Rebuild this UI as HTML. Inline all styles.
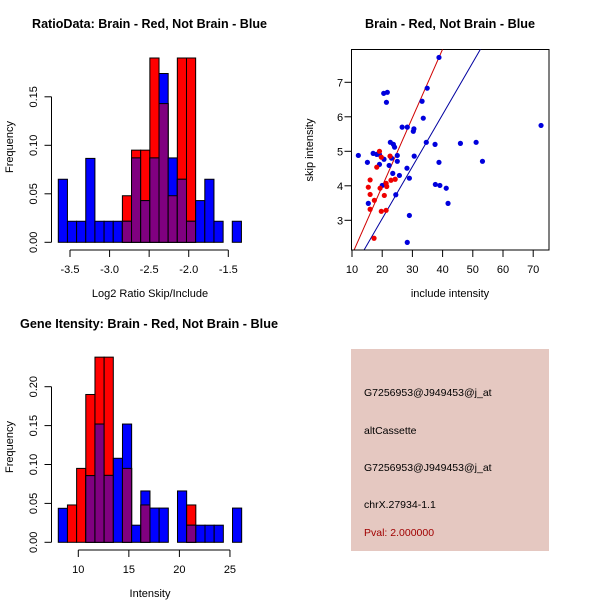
<!DOCTYPE html>
<html><head><meta charset="utf-8"><style>
html,body{margin:0;padding:0;background:#fff;}
svg{display:block;font-family:"Liberation Sans",sans-serif;}
</style></head><body>
<svg id="chart" width="600" height="600" viewBox="0 0 600 600" xmlns="http://www.w3.org/2000/svg">
<rect x="0" y="0" width="600" height="600" fill="#fff"/>
<text x="32" y="28" font-size="12.5" font-weight="bold" textLength="235" lengthAdjust="spacingAndGlyphs">RatioData: Brain - Red, Not Brain - Blue</text>
<text x="365" y="28" font-size="12.5" font-weight="bold" textLength="170" lengthAdjust="spacingAndGlyphs">Brain - Red, Not Brain - Blue</text>
<text x="20" y="328" font-size="12.5" font-weight="bold" textLength="258" lengthAdjust="spacingAndGlyphs">Gene Itensity: Brain - Red, Not Brain - Blue</text>
<g id="h1"></g>
<g id="h2"></g>
<g id="sc"></g>
<g>
<rect x="351" y="349" width="198" height="202" fill="#e5c8c1"/>
<text x="364" y="396" font-size="10.5">G7256953@J949453@j_at</text>
<text x="364" y="434" font-size="10.5">altCassette</text>
<text x="364" y="471" font-size="10.5">G7256953@J949453@j_at</text>
<text x="364" y="508" font-size="10.5">chrX.27934-1.1</text>
<text x="364" y="536" font-size="10.5" fill="#a00000">Pval: 2.000000</text>
</g>
</svg>
<script>
// Ratio histogram data
const ratioBinStart = -3.648;
const ratioBinWidth = 0.1157;
const ratioBlue = [0.065,0.0217,0.0217,0.0865,0.0217,0.0217,0.0217,0.0217,0.087,0.043,0.087,0.174,0.087,0.065,0.0217,0.043,0.065,0.0217,0,0.0217];
const ratioRed = [0,0,0,0,0,0,0,0.048,0.095,0.095,0.19,0.143,0.048,0.19,0.19,0,0,0,0,0];
const ratioXTicks = [-3.5,-3.0,-2.5,-2.0,-1.5];
const ratioXTickLabels = ["-3.5","-3.0","-2.5","-2.0","-1.5"];
const ratioYTicks = [0,0.05,0.10,0.15];
const ratioYTickLabels = ["0.00","0.05","0.10","0.15"];
// Intensity histogram data
const intBinStart = 8.02;
const intBinWidth = 0.907;
const intBlue = [0.0437,0,0,0.0857,0.152,0.086,0.108,0.152,0.022,0.066,0.044,0.044,0,0.066,0.022,0.022,0.022,0.022,0,0.044];
const intRed = [0,0.048,0.095,0.19,0.238,0.238,0,0.095,0,0.048,0,0,0,0,0.048,0,0,0,0,0];
const intXTicks = [10,15,20,25];
const intXTickLabels = ["10","15","20","25"];
const intYTicks = [0,0.05,0.10,0.15,0.20];
const intYTickLabels = ["0.00","0.05","0.10","0.15","0.20"];
// Scatter data
const blueX = [38.8,34.9,20.5,21.7,21.4,33.2,33.6,26.6,28.3,30.5,30.3,22.7,23.7,24.1,34.6,37.5,45.9,51.1,12.1,17.0,18.2,19.1,25.0,23.1,20.6,30.6,15.1,19.1,25.0,22.3,38.8,53.2,28.2,72.6,23.5,25.7,29.0,20.0,37.6,39.1,41.2,24.5,15.4,41.8,29.0,28.3];
const blueY = [7.72,6.83,6.68,6.71,6.42,6.45,5.96,5.70,5.70,5.65,5.58,5.26,5.20,5.12,5.26,5.20,5.23,5.26,4.88,4.94,4.91,4.91,4.88,4.80,4.77,4.86,4.68,4.62,4.71,4.59,4.68,4.71,4.51,5.75,4.36,4.30,4.22,4.01,4.04,4.01,3.93,3.74,3.49,3.49,3.14,2.36];
const redX = [19.1,19.7,22.6,18.2,16.0,15.4,16.0,17.4,16.0,19.7,21.3,20.7,19.3,21.5,21.3,22.9,24.3,17.3];
const redY = [5.0,4.83,4.86,4.54,4.17,3.96,3.75,3.58,3.32,3.26,3.29,3.72,3.93,3.98,4.07,4.16,4.19,2.48];
const redSlope = 0.1986, redIntercept = 0.015;
const blueSlope = 0.151, blueIntercept = 0.026;
const scXTicks = [10,20,30,40,50,60,70];
const scYTicks = [3,4,5,6,7];

const NS = "http://www.w3.org/2000/svg";
function mk(parent, tag, attrs, text) {
  const e = document.createElementNS(NS, tag);
  for (const k in attrs) e.setAttribute(k, attrs[k]);
  if (text !== undefined) e.textContent = text;
  parent.appendChild(e);
  return e;
}

function hist(g, cfg) {
  const xs = v => cfg.x0px + (v - cfg.x0) * cfg.xk;
  const ys = v => cfg.y0px - v * cfg.yk;
  for (let i = 0; i < cfg.blue.length; i++) {
    const l = xs(cfg.start + i * cfg.w), r = xs(cfg.start + (i + 1) * cfg.w);
    const b = cfg.blue[i], rd = cfg.red[i];
    const mn = Math.min(b, rd);
    if (rd > 0) {
      const e = mk(g, "rect", {x: l, y: ys(rd), width: r - l, height: ys(0) - ys(rd), fill: "#ff0000", stroke: "#000", "stroke-width": 1});
      
      
    }
    if (b > 0) {
      const e = mk(g, "rect", {x: l, y: ys(b), width: r - l, height: ys(0) - ys(b), fill: rd > b ? "none" : "#0000ff", stroke: "#000", "stroke-width": 1});
      
      
    }
    if (mn > 0) {
      const e = mk(g, "rect", {x: l, y: ys(mn), width: r - l, height: ys(0) - ys(mn), fill: "#800080", stroke: "#000", "stroke-width": 1});
      
      
    }
  }
  // y axis
  const ya = mk(g, "g", {});
  
  
  mk(ya, "line", {x1: 51.5, x2: 51.5, y1: ys(cfg.yt[0]), y2: ys(cfg.yt[cfg.yt.length - 1]), stroke: "#000"});
  cfg.yt.forEach((t, i) => {
    mk(ya, "line", {x1: 44.5, x2: 51.5, y1: ys(t), y2: ys(t), stroke: "#000"});
    const tx = mk(ya, "text", {x: 37, y: ys(t), "font-size": 11, "text-anchor": "middle", transform: `rotate(-90 37 ${ys(t)})`}, cfg.ytl[i]);
    
    
  });
  const yl = mk(ya, "text", {x: 13, y: cfg.ylabY, "font-size": 11, "text-anchor": "middle", transform: `rotate(-90 13 ${cfg.ylabY})`}, "Frequency");
  
  
  // x axis
  const xa = mk(g, "g", {});
  
  
  const ay = cfg.axisY;
  mk(xa, "line", {x1: xs(cfg.xt[0]), x2: xs(cfg.xt[cfg.xt.length - 1]), y1: ay, y2: ay, stroke: "#000"});
  cfg.xt.forEach((t, i) => {
    mk(xa, "line", {x1: xs(t), x2: xs(t), y1: ay, y2: ay + 7, stroke: "#000"});
    const tx = mk(xa, "text", {x: xs(t), y: ay + 23, "font-size": 11, "text-anchor": "middle"}, cfg.xtl[i]);
    
    
  });
  const xl = mk(xa, "text", {x: 150, y: ay + 47, "font-size": 11, "text-anchor": "middle"}, cfg.xlab);
  
  
}

hist(document.getElementById("h1"), {
  start: ratioBinStart, w: ratioBinWidth, blue: ratioBlue, red: ratioRed,
  x0: -3.5, x0px: 70, xk: 79.15, y0px: 242.3, yk: 970,
  xt: ratioXTicks, xtl: ratioXTickLabels, yt: ratioYTicks, ytl: ratioYTickLabels,
  axisY: 250, ylabY: 147, xlab: "Log2 Ratio Skip/Include"
});
hist(document.getElementById("h2"), {
  start: intBinStart, w: intBinWidth, blue: intBlue, red: intRed,
  x0: 10, x0px: 78.3, xk: 10.11, y0px: 542.3, yk: 778,
  xt: intXTicks, xtl: intXTickLabels, yt: intYTicks, ytl: intYTickLabels,
  axisY: 550, ylabY: 447, xlab: "Intensity"
});

// scatter
(function () {
  const g = document.getElementById("sc");
  const xs = v => 352 + (v - 10) * 3.02;
  const ys = v => 220.3 - (v - 3) * 34.5;
  const L = 351.5, R = 549, T = 49.5, B = 250;
  mk(g, "defs", {}).innerHTML = `<clipPath id="scclip"><rect x="${L}" y="${T}" width="${R - L}" height="${B - T}"/></clipPath>`;
  const box = mk(g, "rect", {x: L, y: T, width: R - L, height: B - T, fill: "none", stroke: "#000"});
  
  
  const xmin = 9.9, xmax = 75.2;
  const rl = mk(g, "line", {x1: xs(xmin), y1: ys(redSlope * xmin + redIntercept), x2: xs(xmax), y2: ys(redSlope * xmax + redIntercept), stroke: "#d00000", "clip-path": "url(#scclip)"});
  
  
  const bl = mk(g, "line", {x1: xs(xmin), y1: ys(blueSlope * xmin + blueIntercept), x2: xs(xmax), y2: ys(blueSlope * xmax + blueIntercept), stroke: "#0000a0", "clip-path": "url(#scclip)"});
  
  
  blueX.forEach((x, i) => {
    const c = mk(g, "circle", {cx: xs(x), cy: ys(blueY[i]), r: 2.6, fill: "#0000dd"});
    
    
  });
  redX.forEach((x, i) => {
    const c = mk(g, "circle", {cx: xs(x), cy: ys(redY[i]), r: 2.6, fill: "#ee0000"});
    
    
  });
  scXTicks.forEach(t => {
    mk(g, "line", {x1: xs(t), x2: xs(t), y1: B, y2: B + 7, stroke: "#000"});
    const tx = mk(g, "text", {x: xs(t), y: B + 23, "font-size": 11, "text-anchor": "middle"}, String(t));
    
    
  });
  mk(g, "line", {x1: xs(10), x2: xs(70), y1: B, y2: B, stroke: "#000"});
  scYTicks.forEach(t => {
    mk(g, "line", {x1: L - 7, x2: L, y1: ys(t), y2: ys(t), stroke: "#000"});
    const tx = mk(g, "text", {x: 340, y: ys(t) + 4, "font-size": 11, "text-anchor": "middle"}, String(t));
    
    
  });
  const xl = mk(g, "text", {x: 450, y: 297, "font-size": 11, "text-anchor": "middle"}, "include intensity");
  
  
  const yl = mk(g, "text", {x: 313, y: 150, "font-size": 11, "text-anchor": "middle", transform: "rotate(-90 313 150)"}, "skip intensity");
  
  
})();
</script>
</body></html>
